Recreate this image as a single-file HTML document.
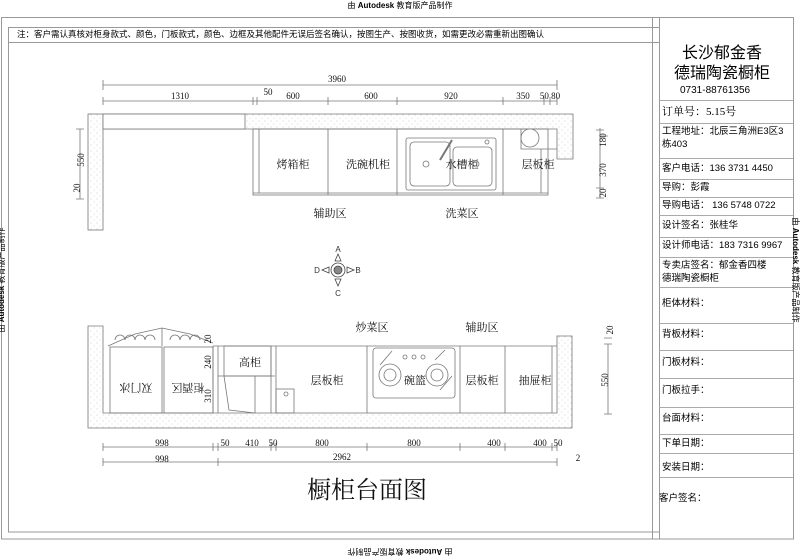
<!DOCTYPE html>
<html><head><meta charset="utf-8"><style>
html,body{margin:0;padding:0;background:#fff;}
svg{display:block;font-family:"Liberation Serif","Noto Serif CJK SC",serif;}
.s{font-family:"Liberation Sans","Noto Sans CJK SC",sans-serif;}
</style></head><body>
<svg width="800" height="556" viewBox="0 0 800 556" xmlns="http://www.w3.org/2000/svg">
<defs>
<pattern id="h" width="6" height="6" patternUnits="userSpaceOnUse"><rect width="6" height="6" fill="#fff"/><circle cx="1" cy="1" r="0.5" fill="#bbb"/><circle cx="4" cy="4" r="0.5" fill="#ccc"/></pattern>
</defs>
<g fill="none" stroke="#999" stroke-width="1">
<rect x="1.5" y="17.5" width="792" height="521.5"/>
<rect x="8.5" y="27.5" width="651" height="504.5"/>
<line x1="8" y1="42.5" x2="659" y2="42.5"/>
<line x1="652.5" y1="17" x2="652.5" y2="539"/>
<line x1="659.5" y1="17" x2="659.5" y2="539"/>
</g>
<g fill="none" stroke="#aaa">
<line x1="659" y1="100.5" x2="793" y2="100.5"/><line x1="659" y1="123.5" x2="793" y2="123.5"/>
<line x1="659" y1="158.5" x2="793" y2="158.5"/><line x1="659" y1="179.5" x2="793" y2="179.5"/>
<line x1="659" y1="197.5" x2="793" y2="197.5"/><line x1="659" y1="215.5" x2="793" y2="215.5"/>
<line x1="659" y1="237.5" x2="793" y2="237.5"/><line x1="659" y1="257.5" x2="793" y2="257.5"/>
<line x1="659" y1="287.5" x2="793" y2="287.5"/><line x1="659" y1="323.5" x2="793" y2="323.5"/>
<line x1="659" y1="350.5" x2="793" y2="350.5"/><line x1="659" y1="378.5" x2="793" y2="378.5"/>
<line x1="659" y1="407.5" x2="793" y2="407.5"/><line x1="659" y1="434.5" x2="793" y2="434.5"/>
<line x1="659" y1="453.5" x2="793" y2="453.5"/><line x1="659" y1="477.5" x2="793" y2="477.5"/>
</g>
<g class="s" font-size="8" fill="#000">
<text x="400" y="8" text-anchor="middle">由 <tspan font-weight="bold">Autodesk</tspan> 教育版产品制作</text>
<text transform="translate(400,549) rotate(180)" text-anchor="middle">由 <tspan font-weight="bold">Autodesk</tspan> 教育版产品制作</text>
<text transform="translate(4,280) rotate(-90)" text-anchor="middle">由 <tspan font-weight="bold">Autodesk</tspan> 教育版产品制作</text>
<text transform="translate(793,270) rotate(90)" text-anchor="middle">由 <tspan font-weight="bold">Autodesk</tspan> 教育版产品制作</text>
<text x="17" y="37" font-size="8.5">注：客户需认真核对柜身款式、颜色，门板款式，颜色、边框及其他配件无误后签名确认，按图生产、按图收货，如需更改必需重新出图确认</text>
</g>
<g class="s" fill="#000">
<text x="722" y="58" font-size="16" text-anchor="middle">长沙郁金香</text>
<text x="722" y="78" font-size="16" text-anchor="middle">德瑞陶瓷橱柜</text>
<text x="680" y="93" font-size="10">0731-88761356</text>
<text x="662" y="115" font-size="11" font-family="Liberation Serif,Noto Serif CJK SC,serif">订单号：5.15号</text>
<g font-size="9.5">
<text x="662" y="134">工程地址：北辰三角洲E3区3</text>
<text x="662" y="147">栋403</text>
<text x="662" y="171">客户电话：136 3731 4450</text>
<text x="662" y="190">导购：彭霞</text>
<text x="662" y="208">导购电话： 136 5748 0722</text>
<text x="662" y="228">设计签名：张桂华</text>
<text x="662" y="248">设计师电话：183 7316 9967</text>
<text x="662" y="268">专卖店签名：郁金香四楼</text>
<text x="662" y="281">德瑞陶瓷橱柜</text>
<text x="662" y="306">柜体材料：</text>
<text x="662" y="337">背板材料：</text>
<text x="662" y="365">门板材料：</text>
<text x="662" y="393">门板拉手：</text>
<text x="662" y="421">台面材料：</text>
<text x="662" y="446">下单日期：</text>
<text x="662" y="470">安装日期：</text>
<text x="659" y="501">客户签名：</text>
</g></g>
<!-- top plan -->
<g stroke="#777" fill="none" stroke-width="0.8">
<line x1="103" y1="85" x2="557" y2="85"/><line x1="103" y1="80" x2="103" y2="90"/><line x1="557" y1="80" x2="557" y2="90"/>
<line x1="103" y1="101" x2="557" y2="101"/>
<path d="M103 97v8M253 97v8M257 97v8M328 97v8M397 97v8M503 97v8M544 97v8M550 97v8M557 97v8"/>
<rect x="88" y="114" width="15" height="116" fill="url(#h)"/>
<path d="M103 114H573V159H557V129H103Z" fill="url(#h)"/>
<rect x="103" y="114" width="142" height="15" fill="#fff"/>
<rect x="253" y="129" width="295" height="66"/>
<line x1="253" y1="193" x2="548" y2="193"/>
<path d="M259 129v64M328 129v66M397 129v66M503 129v66"/>
<rect x="406" y="138" width="90" height="52" rx="2"/>
<rect x="410" y="142" width="40" height="44" rx="4"/>
<rect x="453" y="147" width="39" height="39" rx="4"/>
<line x1="452" y1="140" x2="440" y2="160" stroke-width="2"/>
<circle cx="487" cy="142" r="2"/>
<circle cx="426" cy="164" r="3"/><circle cx="476" cy="164" r="3"/>
<path d="M521 129V149H557" /><circle cx="530" cy="138" r="9" fill="#fff"/>
<line x1="541" y1="149" x2="541" y2="193"/>
<path d="M600 128v8M600 136h8M596 130h8M596 188h8M596 198h8M600 128v70"/>
<path d="M80 129v70M76 129h8M76 199h8"/>
</g>
<g fill="#111" font-size="10">
<text x="337" y="82" text-anchor="middle" font-size="9">3960</text>
<g font-size="9" text-anchor="middle">
<text x="180" y="99">1310</text><text x="268" y="95">50</text><text x="293" y="99">600</text><text x="371" y="99">600</text><text x="451" y="99">920</text><text x="523" y="99">350</text><text x="550" y="99">50 80</text>
<text transform="translate(606,140) rotate(-90)">180</text>
<text transform="translate(606,170) rotate(-90)">370</text>
<text transform="translate(606,193) rotate(-90)">20</text>
<text transform="translate(84,160) rotate(-90)">550</text>
<text transform="translate(80,188) rotate(-90)">20</text>
</g>
<g font-size="11" text-anchor="middle">
<text x="293" y="168">烤箱柜</text><text x="368" y="168">洗碗机柜</text><text x="462" y="168">水槽柜</text><text x="538" y="168">层板柜</text>
<text x="330" y="217">辅助区</text><text x="462" y="217">洗菜区</text>
</g></g>
<!-- compass -->
<g stroke="#444" fill="none" stroke-width="0.8">
<circle cx="338" cy="270" r="7"/><circle cx="338" cy="270" r="4" fill="#888"/>
<path d="M338 254l-3 7h6zM338 286l-3-7h6zM322 270l7-3v6zM354 270l-7-3v6z" fill="#fff"/>
</g>
<g font-size="8" fill="#333" text-anchor="middle" class="s">
<text x="338" y="252">A</text><text x="338" y="296">C</text><text x="317" y="273">D</text><text x="358" y="273">B</text>
</g>
<!-- bottom elevation -->
<g stroke="#777" fill="none" stroke-width="0.8">
<path d="M88 326H103V413H557V336H572V428H88Z" fill="url(#h)"/>
<line x1="213" y1="346" x2="557" y2="346"/>
<rect x="110" y="347" width="52" height="66"/><rect x="164" y="347" width="49" height="66"/>
<path d="M108 346L135 334L162 328L190 334L213 343M162 328V346"/>
<path d="M115 340a5 5 0 0 1 10 0a5 5 0 0 1 10 0a5 5 0 0 1 10 0a5 5 0 0 1 10 0M170 340a5 5 0 0 1 10 0a5 5 0 0 1 10 0a5 5 0 0 1 10 0"/>
<path d="M213 346v67M218 346v67M271 346v67M276 346v67M367 346v67M460 346v67M505 346v67M552 346v67"/>
<rect x="224" y="346" width="47" height="30"/>
<path d="M218 376H275M224 376L229 410L255 413M255 376V413"/>
<rect x="276" y="389" width="18" height="24"/><circle cx="286" cy="394" r="2"/>
<rect x="373" y="348" width="82" height="50" rx="3"/>
<circle cx="390" cy="375" r="11"/><circle cx="390" cy="375" r="6"/><circle cx="437" cy="375" r="11"/><circle cx="437" cy="375" r="6"/>
<circle cx="405" cy="357" r="2"/><circle cx="414" cy="357" r="2"/><circle cx="423" cy="357" r="2"/>
<path d="M380 365l12-14M440 390l12-14M435 360l10-10"/>
<path d="M103 447H557M103 443v8M213 443v8M218 443v8M271 443v8M276 443v8M367 443v8M460 443v8M505 443v8M552 443v8M557 443v8"/>
<path d="M103 462H557M103 458v8M218 458v8M557 458v8"/>
<path d="M608 344v70M604 344h8M604 414h8M604 338h8"/>
</g>
<g fill="#111" text-anchor="middle">
<g font-size="11"><text x="372" y="331">炒菜区</text><text x="482" y="331">辅助区</text>
<text x="250" y="366">高柜</text><text x="327" y="384">层板柜</text><text x="415" y="384">碗篮</text><text x="482" y="384">层板柜</text><text x="535" y="384">抽屉柜</text>
<text transform="translate(136,384) rotate(180)">双门冰</text><text transform="translate(188,384) rotate(180)">柜酒区</text></g>
<g font-size="9">
<text transform="translate(211,339) rotate(-90)">20</text>
<text transform="translate(211,362) rotate(-90)">240</text>
<text transform="translate(211,396) rotate(-90)">310</text>
<text transform="translate(608,380) rotate(-90)">550</text>
<text transform="translate(613,330) rotate(-90)">20</text>
<text x="162" y="446">998</text><text x="225" y="446">50</text><text x="252" y="446">410</text><text x="273" y="446">50</text><text x="322" y="446">800</text><text x="414" y="446">800</text><text x="494" y="446">400</text><text x="540" y="446">400</text><text x="558" y="446">50</text>
<text x="162" y="462">998</text><text x="342" y="460">2962</text><text x="578" y="461">2</text>
</g>
<text x="367" y="498" font-size="24" font-family="Liberation Serif,Noto Serif CJK SC,serif">橱柜台面图</text>
</g>
</svg>
</body></html>
